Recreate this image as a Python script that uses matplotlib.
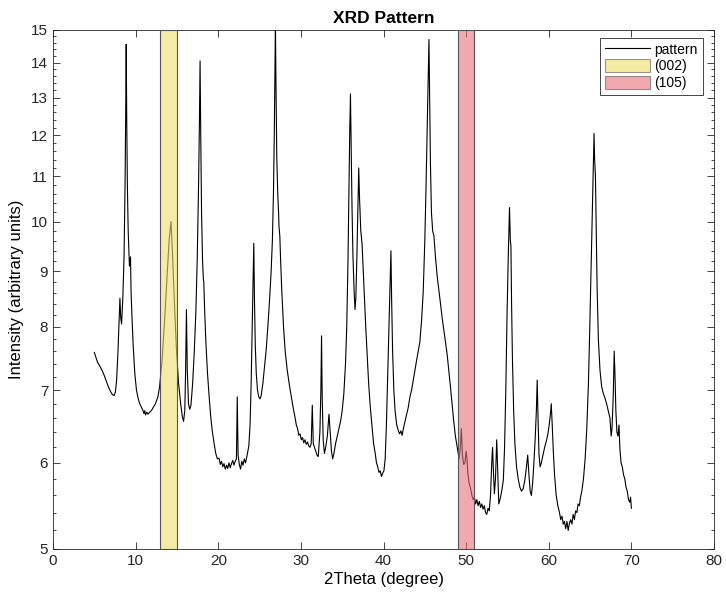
import matplotlib
matplotlib.use("Agg")
import matplotlib.pyplot as plt
from matplotlib.lines import Line2D
from matplotlib.patches import Patch
from matplotlib.ticker import FixedLocator, FormatStrFormatter, NullFormatter
import numpy as np

plt.rcParams['font.family'] = ['Liberation Sans', 'DejaVu Sans']

# Diffraction scan: 2-theta (degree) and intensity (arbitrary units)
two_theta = [
    5.0, 5.2, 5.4, 5.6, 5.8, 6.0, 6.2, 6.4, 6.6, 6.8, 7.0, 7.2, 7.4, 7.55, 7.7,
    7.85, 8.0, 8.1, 8.2, 8.3, 8.45, 8.6, 8.72, 8.8, 8.86, 8.92, 9.0, 9.1, 9.25,
    9.38, 9.45, 9.55, 9.7, 9.9, 10.1, 10.3, 10.5, 10.7, 10.9, 11.0, 11.1, 11.2,
    11.35, 11.5, 11.7, 11.9, 12.1, 12.4, 12.7, 12.9, 13.2, 13.5, 13.8, 14.05,
    14.28, 14.45, 14.7, 14.95, 15.2, 15.45, 15.65, 15.8, 15.95, 16.05, 16.15,
    16.25, 16.4, 16.55, 16.7, 16.9, 17.1, 17.3, 17.45, 17.6, 17.72, 17.8, 17.88,
    17.98, 18.1, 18.2, 18.25, 18.35, 18.5, 18.7, 18.9, 19.1, 19.3, 19.5, 19.7,
    19.9, 20.1, 20.25, 20.4, 20.55, 20.7, 20.85, 21.0, 21.15, 21.3, 21.45, 21.6,
    21.75, 21.9, 22.05, 22.2, 22.3, 22.4, 22.55, 22.7, 22.85, 23.0, 23.15, 23.3,
    23.5, 23.7, 23.85, 23.98, 24.1, 24.2, 24.3, 24.38, 24.48, 24.6, 24.75, 24.9,
    25.05, 25.2, 25.4, 25.6, 25.8, 26.0, 26.2, 26.4, 26.55, 26.68, 26.78, 26.86,
    26.92, 26.98, 27.08, 27.2, 27.3, 27.35, 27.45, 27.55, 27.7, 27.9, 28.1,
    28.35, 28.6, 28.85, 29.1, 29.3, 29.45, 29.6, 29.75, 29.9, 30.05, 30.2, 30.35,
    30.5, 30.65, 30.8, 30.95, 31.1, 31.25, 31.38, 31.5, 31.65, 31.8, 31.95, 32.1,
    32.3, 32.42, 32.5, 32.58, 32.7, 32.85, 33.0, 33.2, 33.4, 33.55, 33.7, 33.85,
    34.0, 34.2, 34.4, 34.6, 34.8, 35.0, 35.2, 35.4, 35.55, 35.7, 35.82, 35.92,
    36.0, 36.08, 36.18, 36.3, 36.45, 36.55, 36.65, 36.78, 36.9, 37.0, 37.1,
    37.25, 37.4, 37.55, 37.7, 37.85, 38.0, 38.2, 38.4, 38.6, 38.8, 39.0, 39.15,
    39.3, 39.45, 39.6, 39.75, 39.9, 40.05, 40.2, 40.35, 40.5, 40.65, 40.8, 40.9,
    40.98, 41.1, 41.25, 41.4, 41.6, 41.8, 41.95, 42.1, 42.25, 42.4, 42.6, 42.8,
    43.0, 43.2, 43.4, 43.6, 43.8, 44.0, 44.2, 44.4, 44.6, 44.8, 45.0, 45.15,
    45.3, 45.42, 45.5, 45.58, 45.68, 45.8, 45.95, 46.1, 46.3, 46.5, 46.7, 46.9,
    47.1, 47.3, 47.5, 47.7, 47.9, 48.1, 48.3, 48.5, 48.7, 48.85, 49.0, 49.15,
    49.3, 49.42, 49.55, 49.7, 49.85, 50.0, 50.1, 50.2, 50.35, 50.5, 50.7, 50.85,
    51.0, 51.15, 51.3, 51.45, 51.6, 51.75, 51.9, 52.05, 52.2, 52.35, 52.5, 52.65,
    52.8, 52.95, 53.1, 53.2, 53.3, 53.42, 53.55, 53.7, 53.82, 53.95, 54.1, 54.3,
    54.5, 54.65, 54.8, 54.95, 55.1, 55.25, 55.35, 55.42, 55.5, 55.6, 55.75,
    55.9, 56.1, 56.3, 56.5, 56.7, 56.9, 57.1, 57.3, 57.45, 57.6, 57.75, 57.9,
    58.05, 58.2, 58.35, 58.5, 58.6, 58.7, 58.82, 58.95, 59.1, 59.3, 59.5, 59.7,
    59.9, 60.05, 60.2, 60.3, 60.4, 60.55, 60.7, 60.9, 61.1, 61.3, 61.45, 61.6,
    61.75, 61.9, 62.05, 62.2, 62.35, 62.5, 62.65, 62.8, 62.95, 63.1, 63.25,
    63.4, 63.55, 63.7, 63.85, 64.0, 64.2, 64.4, 64.6, 64.8, 64.95, 65.1, 65.25,
    65.38, 65.48, 65.55, 65.65, 65.75, 65.85, 66.0, 66.2, 66.4, 66.6, 66.8, 67.0,
    67.2, 67.4, 67.55, 67.65, 67.8, 67.92, 68.02, 68.12, 68.25, 68.38, 68.5,
    68.6, 68.75, 68.9, 69.05, 69.2, 69.35, 69.5, 69.65, 69.8, 69.9, 70.0,
]
intensity = [
    7.58, 7.5, 7.42, 7.38, 7.33, 7.28, 7.22, 7.15, 7.08, 7.02, 6.97, 6.93, 6.92,
    6.97, 7.15, 7.55, 8.1, 8.5, 8.15, 8.05, 8.5, 9.3, 10.8, 12.6, 14.55, 12.5,
    10.8, 9.8, 9.1, 9.28, 8.6, 8.2, 7.7, 7.25, 7.0, 6.88, 6.8, 6.75, 6.7, 6.66,
    6.7, 6.64, 6.68, 6.65, 6.68, 6.7, 6.74, 6.8, 6.9, 7.05, 7.45, 8.1, 8.9, 9.6,
    10.0, 9.4, 8.4, 7.6, 7.1, 6.8, 6.62, 6.55, 6.7, 7.3, 8.3, 7.3, 6.8, 6.72,
    6.78, 7.1, 7.6, 8.3, 9.2, 10.6, 12.3, 14.05, 12.0, 10.2, 9.2, 8.85, 8.8,
    8.3, 7.75, 7.25, 6.9, 6.6, 6.4, 6.25, 6.12, 6.05, 6.06, 5.98, 6.02, 5.95,
    5.99, 5.92, 5.97, 5.93, 6.0, 5.94, 5.99, 6.03, 5.97, 6.02, 6.05, 6.9, 6.1,
    5.98, 5.92, 6.02, 5.97, 6.05, 6.0, 6.1, 6.22, 6.5, 7.1, 7.9, 8.6, 9.55, 8.5,
    7.7, 7.25, 7.0, 6.9, 6.87, 6.92, 7.1, 7.35, 7.62, 8.0, 8.45, 9.0, 9.6, 10.6,
    12.0, 13.8, 15.2, 13.5, 11.5, 10.6, 10.2, 9.9, 9.7, 9.2, 8.6, 8.0, 7.6, 7.3,
    7.08, 6.9, 6.72, 6.6, 6.5, 6.45, 6.36, 6.38, 6.3, 6.33, 6.26, 6.3, 6.24,
    6.27, 6.22, 6.2, 6.25, 6.78, 6.25, 6.2, 6.15, 6.1, 6.08, 6.4, 7.0, 7.85, 6.9,
    6.3, 6.12, 6.2, 6.35, 6.65, 6.4, 6.15, 6.05, 6.12, 6.25, 6.35, 6.45, 6.55,
    6.7, 6.95, 7.4, 8.0, 9.2, 10.8, 12.2, 13.1, 11.8, 10.4, 9.3, 8.6, 8.3, 8.5,
    9.3, 10.3, 11.2, 10.5, 9.8, 9.55, 9.0, 8.5, 8.0, 7.6, 7.1, 6.75, 6.5, 6.25,
    6.12, 6.0, 5.95, 5.88, 5.9, 5.83, 5.87, 5.9, 6.05, 6.5, 7.2, 8.0, 8.8, 9.4,
    8.5, 7.6, 7.0, 6.7, 6.5, 6.42, 6.38, 6.42, 6.36, 6.45, 6.55, 6.65, 6.75,
    6.9, 7.0, 7.15, 7.3, 7.45, 7.6, 7.75, 8.1, 8.6, 9.6, 10.8, 12.3, 13.8, 14.7,
    13.0, 11.3, 10.2, 9.8, 9.7, 9.25, 8.9, 8.65, 8.4, 8.15, 7.95, 7.75, 7.55,
    7.3, 7.05, 6.8, 6.55, 6.35, 6.25, 6.15, 6.05, 6.2, 6.45, 6.1, 5.98, 6.0,
    6.15, 6.05, 5.88, 5.75, 5.7, 5.6, 5.55, 5.58, 5.5, 5.55, 5.48, 5.53, 5.46,
    5.5, 5.44, 5.48, 5.4, 5.38, 5.45, 5.42, 5.6, 6.0, 6.2, 5.9, 5.62, 5.8, 6.3,
    5.9, 5.5, 5.55, 5.65, 5.78, 6.2, 7.0, 8.2, 9.3, 10.3, 9.6, 9.5, 8.4, 7.5,
    6.7, 6.25, 5.95, 5.8, 5.7, 5.65, 5.68, 5.78, 5.95, 6.1, 5.85, 5.65, 5.6,
    5.75, 6.0, 6.3, 6.7, 7.15, 6.6, 6.1, 5.95, 6.0, 6.1, 6.2, 6.28, 6.38, 6.5,
    6.65, 6.8, 6.55, 6.15, 5.85, 5.6, 5.48, 5.4, 5.32, 5.36, 5.27, 5.3, 5.22,
    5.3, 5.2, 5.28, 5.32, 5.27, 5.38, 5.32, 5.42, 5.4, 5.5, 5.48, 5.58, 5.65,
    5.8, 6.05, 6.45, 7.1, 7.9, 8.9, 10.0, 11.2, 12.05, 11.4, 11.0, 9.8, 8.7,
    7.8, 7.3, 7.05, 6.95, 6.88, 6.8, 6.7, 6.6, 6.35, 6.45, 6.9, 7.6, 7.2, 6.7,
    6.4, 6.35, 6.5, 6.2, 6.0, 5.95, 5.85, 5.8, 5.7, 5.65, 5.55, 5.52, 5.58,
    5.45,
]

# Highlighted reflections: label and 2-theta window
band_labels = ['(002)', '(105)']
band_ranges = [(13.0, 15.0), (49.0, 51.0)]
band_colors = ['#eedf6a', '#e8707a']

fig = plt.figure(figsize=(7.26, 5.99), dpi=100)
ax = fig.add_axes([0.073, 0.0835, 0.9105, 0.8665])

ax.plot(two_theta, intensity, color='black', linewidth=0.8, zorder=2)

y_lo, y_hi = 5, 15
for (x0, x1), col in zip(band_ranges, band_colors):
    ax.fill_between([x0, x1], [y_lo, y_lo], [y_hi, y_hi], facecolor=col,
                    alpha=0.6, edgecolor='none', zorder=3)
    ax.plot([x0, x0, x1, x1, x0], [y_lo, y_hi, y_hi, y_lo, y_lo],
            color='#555555', linewidth=0.8, zorder=3)

ax.set_yscale('log')
ax.set_xlim(0, 80)
ax.set_ylim(y_lo, y_hi)
ax.yaxis.set_major_locator(FixedLocator(np.arange(5, 16, 1)))
ax.yaxis.set_major_formatter(FormatStrFormatter('%d'))
ax.yaxis.set_minor_locator(FixedLocator(np.arange(5, 15.01, 0.2)))
ax.yaxis.set_minor_formatter(NullFormatter())
ax.set_xticks(np.arange(0, 81, 10))

ax.tick_params(which='both', direction='in', top=True, right=True,
               labelsize=11, colors='#262626')
ax.tick_params(which='major', length=5, width=0.6)
ax.tick_params(which='minor', length=2.5, width=0.6)
for s in ax.spines.values():
    s.set_color('#262626')
    s.set_linewidth(0.6)

ax.set_title('XRD Pattern', fontsize=12.5, fontweight='bold', pad=5)
ax.set_xlabel('2Theta (degree)', fontsize=12, labelpad=3)
ax.set_ylabel('Intensity (arbitrary units)', fontsize=12, labelpad=5)

handles = [Line2D([0], [0], color='black', linewidth=0.8)]
for col in band_colors:
    handles.append(Patch(facecolor=col, alpha=0.6, edgecolor='#555555',
                         linewidth=0.8))
leg = ax.legend(handles, ['pattern'] + band_labels, loc='upper right',
                bbox_to_anchor=(0.983, 0.985), fontsize=10, fancybox=False,
                edgecolor='#262626', framealpha=1, handlelength=3.3,
                handleheight=1.0, borderpad=0.35, labelspacing=0.2,
                handletextpad=0.3, borderaxespad=0)
leg.get_frame().set_linewidth(0.6)

fig.savefig('out.png', dpi=100)
